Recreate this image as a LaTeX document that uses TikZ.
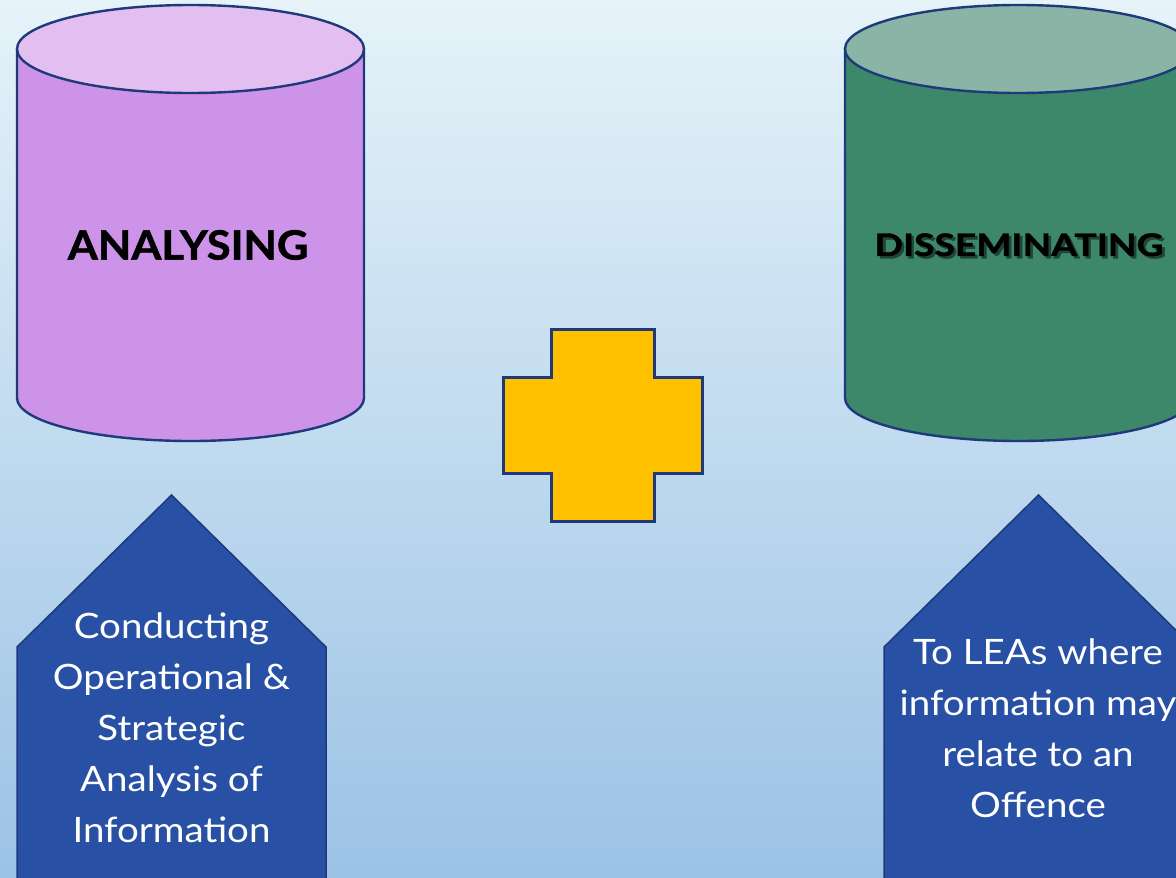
\documentclass[tikz,border=0pt]{standalone}
\usepackage{fontspec}
\setmainfont{Lato}
\newfontfamily\bodyfont[FakeStretch=1.1]{Lato}
\newfontfamily\titlefont[BoldFeatures={FakeBold=1.2}]{Lato}
\definecolor{bgtop}{HTML}{E6F3F9}
\definecolor{bgbot}{HTML}{9BC2E5}
\definecolor{edge}{HTML}{1F3A7A}
\definecolor{purplebody}{HTML}{CC93E8}
\definecolor{purpletop}{HTML}{E3BEF1}
\definecolor{greenbody}{HTML}{3D876B}
\definecolor{greentop}{HTML}{8AB5A6}
\definecolor{plusfill}{HTML}{FFC000}
\definecolor{arrowfill}{HTML}{2850A4}
\definecolor{shadowcol}{HTML}{1E4536}
\tikzset{
  cylline/.style={draw=edge, line width=2.4pt},
  plusline/.style={draw=edge, line width=3pt, fill=plusfill, line join=miter},
  pentline/.style={draw=edge, line width=1.5pt, fill=arrowfill},
  titletext/.style={font=\titlefont\bfseries\fontsize{40.5}{48}\selectfont, text=black, inner sep=0pt},
  smalltitle/.style={font=\titlefont\bfseries\fontsize{31}{36}\selectfont, text=black, inner sep=0pt},
  bodytext/.style={font=\bodyfont\fontsize{35}{51}\selectfont, text=white, align=center},
}
\begin{document}
\begin{tikzpicture}[x=1pt,y=-1pt]
\useasboundingbox (0,0) rectangle (1176,878);
\clip (0,0) rectangle (1176,878);
\shade[top color=bgtop, bottom color=bgbot] (0,0) rectangle (1176,878);
% left cylinder
\filldraw[cylline, fill=purplebody] (17,49) -- (17,398) arc[start angle=180,end angle=0,x radius=173.5,y radius=43] -- (364,49) -- cycle;
\filldraw[cylline, fill=purpletop] (190.5,49) ellipse[x radius=173.5, y radius=44];
\node[titletext] (analysing) at (188,245) {\scalebox{1.07}[1]{ANALYSING}};
% right cylinder
\filldraw[cylline, fill=greenbody] (845,49) -- (845,398) arc[start angle=180,end angle=0,x radius=173.5,y radius=43] -- (1192,49) -- cycle;
\filldraw[cylline, fill=greentop] (1018.5,49) ellipse[x radius=173.5, y radius=44];
\node[smalltitle] (disseminating) at (1019,246) {\scalebox{1.2}[1]{\makebox[0pt][l]{\hspace{2.2pt}\raisebox{-2.5pt}{\textcolor{shadowcol}{DISSEMINATING}}}DISSEMINATING}};
% plus
\filldraw[plusline] (551,329) -- (654,329) -- (654,377) -- (702,377) -- (702,473) -- (654,473) -- (654,521) -- (551,521) -- (551,473) -- (503,473) -- (503,377) -- (551,377) -- cycle;
\node (plus) at (602.5,425) {};
% left pentagon
\filldraw[pentline] (171.5,495) -- (326,647) -- (326,890) -- (17,890) -- (17,647) -- cycle;
\node[bodytext] (lefttext) at (171.5,728) {Conducting\\Operational \&\\Strategic\\Analysis of\\Information};
% right pentagon
\filldraw[pentline] (1038.5,495) -- (1193,647) -- (1193,890) -- (884,890) -- (884,647) -- cycle;
\node[bodytext] (righttext) at (1038,728.5) {To LEAs where\\information may\\relate to an\\Offence};
\end{tikzpicture}
\end{document}
